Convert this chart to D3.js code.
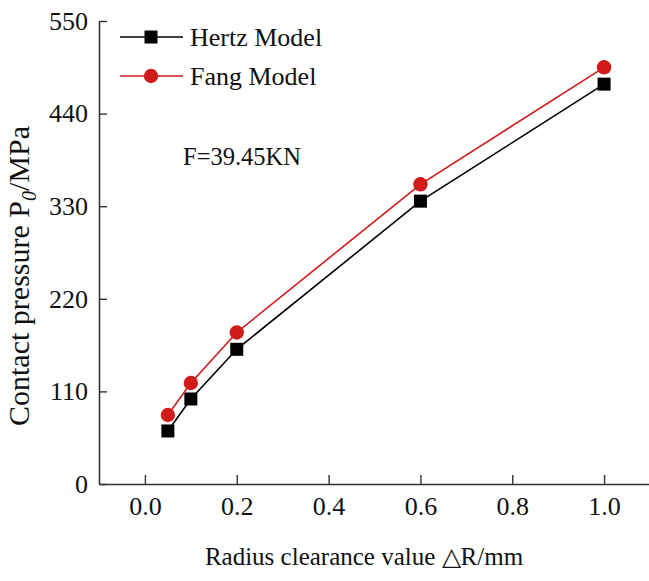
<!DOCTYPE html>
<html>
<head>
<meta charset="utf-8">
<script src="https://cdn.jsdelivr.net/npm/d3@7"></script>
<style>
  html, body { margin: 0; padding: 0; background: #fff; }
  svg { display: block; }
  text { font-family: "Liberation Serif", "Times New Roman", serif; fill: #111; }
</style>
</head>
<body>
<svg id="chart" width="649" height="581"></svg>
<script>
// Radius clearance (mm) and contact pressure (MPa) for each model
const clearance = [0.05, 0.1, 0.2, 0.6, 1.0];
const hertzPressure = [63, 101, 160, 336, 475];
const fangPressure = [82, 120, 180, 356, 495];
const xTicks = [0.0, 0.2, 0.4, 0.6, 0.8, 1.0];
const yTicks = [0, 110, 220, 330, 440, 550];
const seriesNames = ["Hertz Model", "Fang Model"];

const svg = d3.select("#chart");
const x = d3.scaleLinear().domain([-0.1, 1.1]).range([99, 650]);
const y = d3.scaleLinear().domain([0, 550]).range([484, 21]);

const axisColor = "#333";

// Axes with inward ticks
const xAxis = svg.append("g").attr("transform", "translate(0,484)")
  .call(d3.axisBottom(x).tickValues(xTicks).tickFormat(d3.format(".1f")).tickSizeInner(-9).tickSizeOuter(0).tickPadding(13));
const yAxis = svg.append("g").attr("transform", "translate(99,0)")
  .call(d3.axisLeft(y).tickValues(yTicks).tickFormat(d3.format("d")).tickSizeInner(-8).tickSizeOuter(0).tickPadding(11));

[xAxis, yAxis].forEach(g => {
  g.select(".domain").attr("stroke", axisColor).attr("stroke-width", 1.6);
  g.selectAll(".tick line").attr("stroke", axisColor).attr("stroke-width", 1.4);
  g.selectAll(".tick text").attr("font-family", "Liberation Serif, serif").attr("font-size", 26).attr("fill", "#111");
});
xAxis.selectAll(".tick text").attr("dy", "0.71em");

// Axis titles
svg.append("text")
  .attr("x", 364).attr("y", 565)
  .attr("text-anchor", "middle")
  .attr("font-size", 25)
  .text("Radius clearance value \u25B3R/mm");

const yTitle = svg.append("text")
  .attr("transform", "translate(29,276) rotate(-90)")
  .attr("text-anchor", "middle")
  .attr("font-size", 30);
yTitle.append("tspan").text("Contact pressure P");
yTitle.append("tspan").attr("font-size", 20).attr("font-style", "italic").attr("dy", 7).text("0");
yTitle.append("tspan").attr("dy", -7).text("/MPa");

// Series
const series = [
  { name: seriesNames[0], values: hertzPressure, color: "#000", shape: "square" },
  { name: seriesNames[1], values: fangPressure, color: "#d11a1a", shape: "circle" }
];

const line = d3.line().x((d, i) => x(clearance[i])).y(d => y(d));

function drawMarker(g, shape, color, cx, cy) {
  if (shape === "square") {
    g.append("rect").attr("x", cx - 6.5).attr("y", cy - 6.5).attr("width", 13).attr("height", 13).attr("fill", color);
  } else {
    g.append("circle").attr("cx", cx).attr("cy", cy).attr("r", 7.2).attr("fill", color);
  }
}

series.forEach(s => {
  svg.append("path").datum(s.values)
    .attr("d", line)
    .attr("fill", "none")
    .attr("stroke", s.color)
    .attr("stroke-width", 1.6);
  const g = svg.append("g");
  s.values.forEach((v, i) => drawMarker(g, s.shape, s.color, x(clearance[i]), y(v)));
});

// Legend
const legendY = [37, 76];
series.forEach((s, i) => {
  const ly = legendY[i];
  svg.append("line").attr("x1", 120).attr("x2", 183).attr("y1", ly).attr("y2", ly)
    .attr("stroke", s.color).attr("stroke-width", 1.6);
  drawMarker(svg, s.shape, s.color, 151, ly);
  svg.append("text").attr("x", 190).attr("y", ly + 9).attr("font-size", 26).text(s.name);
});

// Load annotation
svg.append("text").attr("x", 183).attr("y", 165).attr("font-size", 24.5).text("F=39.45KN");
</script>
</body>
</html>
